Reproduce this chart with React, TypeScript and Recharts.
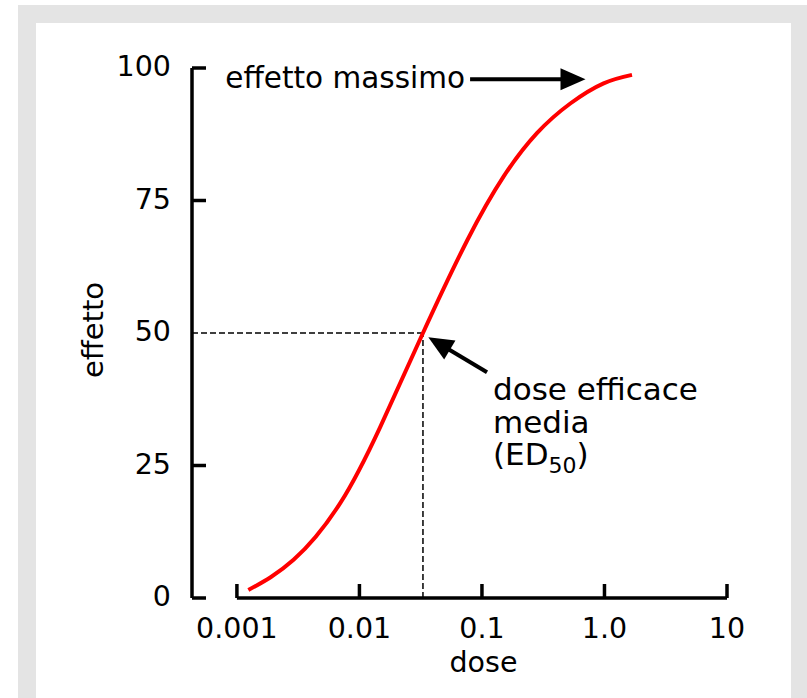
import { LineChart, Line, XAxis, YAxis, ReferenceLine } from "recharts";

// ── Data ───────────────────────────────────────────────────────────────
const DOSE = [0.00124, 0.0029, 0.00697, 0.0148, 0.033, 0.0759, 0.15, 0.281, 0.526, 0.984, 1.677];
const EFFECT = [1.5, 7.2, 17.9, 32.3, 50, 67.5, 79.5, 87.7, 93.3, 97.1, 98.7];

const X_TICKS = [0.001, 0.01, 0.1, 1, 10];
const X_TICK_LABELS = ["0.001", "0.01", "0.1", "1.0", "10"];
const Y_TICKS = [0, 25, 50, 75, 100];

const ED50_DOSE = 0.033;
const ED50_EFFECT = 50;

// annotation arrows, in data space: [tail, tip]
const MAX_ARROW = [{ x: 0.08, y: 97.9 }, { x: 0.7, y: 97.9 }];
const ED50_ARROW = [{ x: 0.11, y: 42.6 }, { x: 0.0365, y: 49.2 }];

const X_MIN = 0.00043; // left edge of the plot, where the y axis sits

const data = DOSE.map((dose, i) => ({ dose, effect: EFFECT[i] }));

// ── Styles ─────────────────────────────────────────────────────────────
const FONT = '"DejaVu Sans", Verdana, sans-serif';
const AXIS_W = 3.5;

// ── Ticks ──────────────────────────────────────────────────────────────
const XTick = (props: any) => {
  const { x, y, index } = props;
  return (
    <g>
      <line x1={x} y1={y} x2={x} y2={y - 14} stroke="#000" strokeWidth={AXIS_W} />
      <text x={x} y={y + 40} textAnchor="middle" fontSize={28.5} fontFamily={FONT} fill="#000">
        {X_TICK_LABELS[index]}
      </text>
    </g>
  );
};

const YTick = (props: any) => {
  const { x, y, payload } = props;
  return (
    <g>
      {payload.value !== ED50_EFFECT && (
        <line x1={x} y1={y} x2={x + 14} y2={y} stroke="#000" strokeWidth={AXIS_W} />
      )}
      <text x={x - 21} y={y + 8} textAnchor="end" fontSize={28.5} fontFamily={FONT} fill="#000">
        {payload.value}
      </text>
    </g>
  );
};

// ── Arrow shape for ReferenceLine segments ─────────────────────────────
function arrowShape(label: (x: number, y: number) => React.ReactNode) {
  return (p: any) => {
    const { x1, y1, x2, y2 } = p;
    if ([x1, y1, x2, y2].some((v) => typeof v !== "number" || isNaN(v))) return null;
    const len = Math.hypot(x2 - x1, y2 - y1);
    const ux = (x2 - x1) / len, uy = (y2 - y1) / len;
    const L = 25, W = 11;
    const bx = x2 - ux * L, by = y2 - uy * L;
    const pts = `${x2},${y2} ${bx - uy * W},${by + ux * W} ${bx + uy * W},${by - ux * W}`;
    return (
      <g>
        <line x1={x1} y1={y1} x2={bx + ux * 2} y2={by + uy * 2} stroke="#000" strokeWidth={4} />
        <polygon points={pts} fill="#000" />
        {label(x1, y1)}
      </g>
    );
  };
}

const maxLabel = (x: number, y: number) => (
  <text x={x - 5} y={y + 9} textAnchor="end" fontSize={29.5} fontFamily={FONT} fill="#000">
    effetto massimo
  </text>
);

const ed50Label = (x: number, y: number) => (
  <g fontSize={31} fontFamily={FONT} fill="#000">
    <text x={x + 6} y={y + 28}>dose efficace</text>
    <text x={x + 6} y={y + 61}>media</text>
    <text x={x + 6} y={y + 93}>
      (ED<tspan fontSize={22} dy={8}>50</tspan><tspan dy={-8}>)</tspan>
    </text>
  </g>
);

// ── App ────────────────────────────────────────────────────────────────
export default function App() {
  return (
    <div style={{ position: "absolute", left: 0, top: 0, width: 807, height: 698, overflow: "hidden", background: "#fff" }}>
      <div style={{ position: "absolute", left: 18, top: 5, width: 789, height: 700, background: "#e4e4e4" }} />
      <div style={{ position: "absolute", left: 36, top: 23, width: 755, height: 700, background: "#fff" }} />
      <div style={{ position: "absolute", left: 0, top: 0 }}>
        <LineChart width={807} height={698} data={data} margin={{ top: 68, right: 80, bottom: 40, left: 92 }}>
          <XAxis
            dataKey="dose" type="number" scale="log" domain={[X_MIN, 10]} ticks={X_TICKS}
            allowDataOverflow interval={0} height={60}
            axisLine={false} tickLine={false} tickSize={0} tickMargin={0} tick={XTick}
            label={(p: any) => {
              const vb = p.viewBox;
              if (!vb) return null;
              return (
                <text x={vb.x + vb.width / 2 + 24} y={vb.y + 74} textAnchor="middle" fontSize={28.5} fontFamily={FONT} fill="#000">
                  dose
                </text>
              );
            }}
          />
          <YAxis
            type="number" domain={[0, 100]} ticks={Y_TICKS} interval={0} width={100}
            axisLine={{ stroke: "#000", strokeWidth: AXIS_W }} tickLine={false} tickSize={0} tickMargin={0} tick={YTick}
            label={(p: any) => {
              const vb = p.viewBox;
              if (!vb) return null;
              const cx = vb.x + 11, cy = vb.y + vb.height / 2 - 3;
              return (
                <text x={cx} y={cy} transform={`rotate(-90, ${cx}, ${cy})`} textAnchor="middle" fontSize={29} fontFamily={FONT} fill="#000">
                  effetto
                </text>
              );
            }}
          />
          {/* x axis line, only over the tick span */}
          <ReferenceLine segment={[{ x: X_TICKS[0], y: 0 }, { x: X_TICKS[X_TICKS.length - 1], y: 0 }]} stroke="#000" strokeWidth={AXIS_W} />
          {/* ED50 guides */}
          <ReferenceLine segment={[{ x: X_MIN, y: ED50_EFFECT }, { x: ED50_DOSE, y: ED50_EFFECT }]} stroke="#000" strokeWidth={1.5} strokeDasharray="6 3" />
          <ReferenceLine segment={[{ x: ED50_DOSE, y: 0 }, { x: ED50_DOSE, y: ED50_EFFECT }]} stroke="#000" strokeWidth={1.5} strokeDasharray="6 3" />
          <Line
            type="natural" dataKey="effect" stroke="#ff0000" strokeWidth={4}
            dot={false} activeDot={false} isAnimationActive={false}
          />
          <ReferenceLine segment={MAX_ARROW} shape={arrowShape(maxLabel)} />
          <ReferenceLine segment={ED50_ARROW} shape={arrowShape(ed50Label)} />
        </LineChart>
      </div>
    </div>
  );
}
